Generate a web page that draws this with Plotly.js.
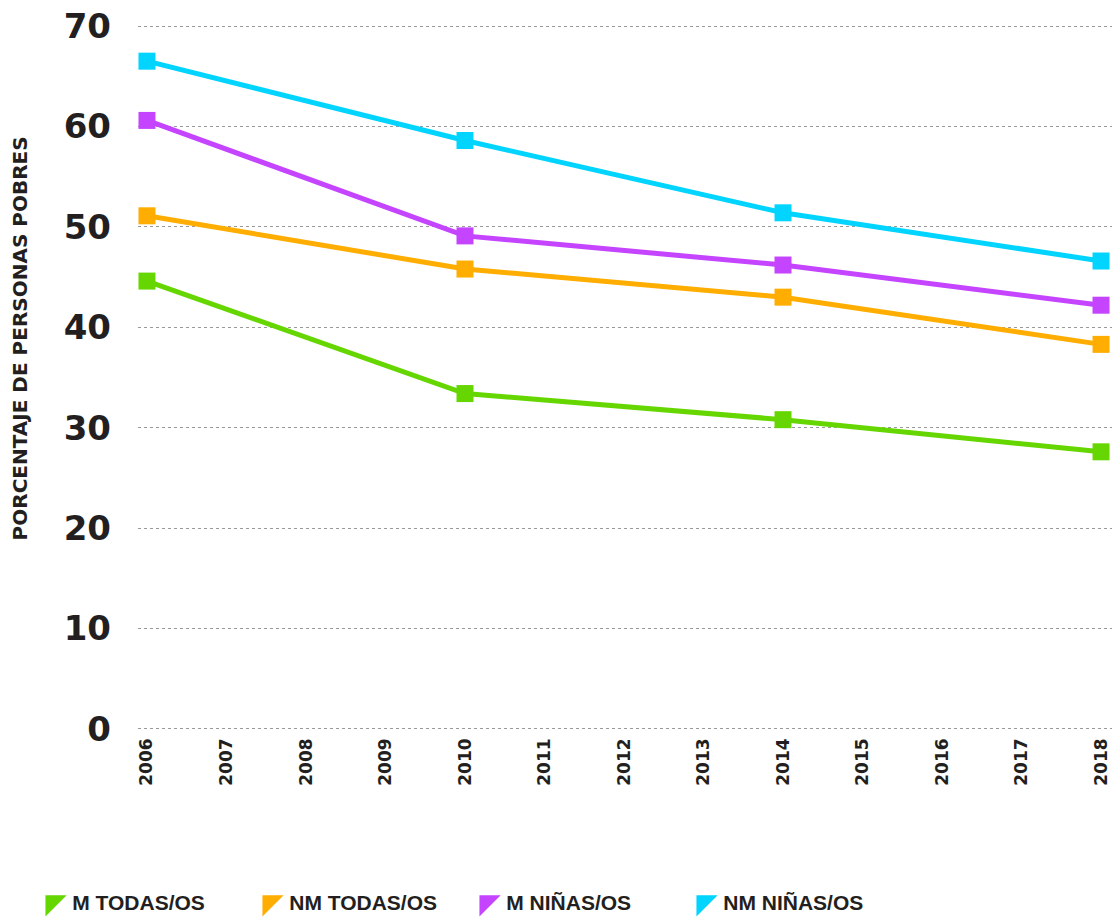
<!DOCTYPE html>
<html>
<head>
<meta charset="utf-8">
<script src="https://cdn.plot.ly/plotly-3.0.1.min.js"></script>
<style>html,body{margin:0;padding:0;background:#fff;}#chart{width:1112px;height:919px;}</style>
</head>
<body>
<div id="chart"></div>
<script>
const years = [2006, 2010, 2014, 2018];
const seriesNames = ["M TODAS/OS", "NM TODAS/OS", "M NIÑAS/OS", "NM NIÑAS/OS"];
const mTodas = [44.6, 33.4, 30.8, 27.6];
const nmTodas = [51.1, 45.8, 43.0, 38.3];
const mNinas = [60.6, 49.1, 46.2, 42.2];
const nmNinas = [66.5, 58.6, 51.4, 46.6];
const colors = ["#66d600", "#ffad00", "#c444ff", "#00d4ff"];
const yTicks = [0, 10, 20, 30, 40, 50, 60, 70];
const xTicks = [2006, 2007, 2008, 2009, 2010, 2011, 2012, 2013, 2014, 2015, 2016, 2017, 2018];

const values = [mTodas, nmTodas, mNinas, nmNinas];
const textColor = "#231f20";
const traces = [];
values.forEach((v, i) => {
  traces.push({
    x: years, y: v, type: "scatter", mode: "lines+markers",
    name: seriesNames[i], showlegend: false,
    line: {color: colors[i], width: 5},
    marker: {symbol: "square", size: 17, color: colors[i]},
    cliponaxis: false
  });
});
values.forEach((v, i) => {
  traces.push({
    x: [null], y: [null], type: "scatter", mode: "markers",
    name: seriesNames[i], showlegend: true,
    marker: {symbol: "triangle-nw", size: 16, color: colors[i], line: {color: colors[i], width: 4}}
  });
});

const layout = {
  width: 1112, height: 919,
  margin: {l: 138, r: 0, t: 21, b: 185},
  paper_bgcolor: "#fff", plot_bgcolor: "#fff",
  font: {family: "DejaVu Sans", color: textColor},
  xaxis: {
    range: [2005.887, 2018.138],
    tickvals: xTicks, ticktext: xTicks.map(String),
    tickangle: -90,
    tickfont: {family: "DejaVu Sans", size: 17, color: textColor, weight: 700},
    ticklabeloverflow: "allow",
    showgrid: false, zeroline: false, showline: false, ticks: ""
  },
  yaxis: {
    range: [-0.5, 70.5],
    tickvals: yTicks,
    tickfont: {family: "DejaVu Sans", size: 34, color: textColor, weight: 700},
    showgrid: true, gridcolor: "#999", griddash: "dot", gridwidth: 1,
    zeroline: false, showline: false, ticks: "",
    ticklabelstandoff: 26
  },
  legend: {
    orientation: "h",
    xref: "container", yref: "container",
    x: 0.029, xanchor: "left", y: 0.018, yanchor: "middle",
    font: {family: "Liberation Sans", size: 21, color: textColor, weight: 700},
    traceorder: "normal", entrywidth: 172, entrywidthmode: "pixels"
  },
  annotations: [{
    text: "PORCENTAJE DE PERSONAS POBRES",
    xref: "paper", yref: "paper", x: -0.121, y: 0.555,
    xanchor: "center", yanchor: "middle", textangle: -90, showarrow: false,
    font: {family: "DejaVu Sans", size: 20, color: textColor, weight: 700}
  }]
};

Plotly.newPlot("chart", traces, layout, {displayModeBar: false, staticPlot: true});
</script>
</body>
</html>
